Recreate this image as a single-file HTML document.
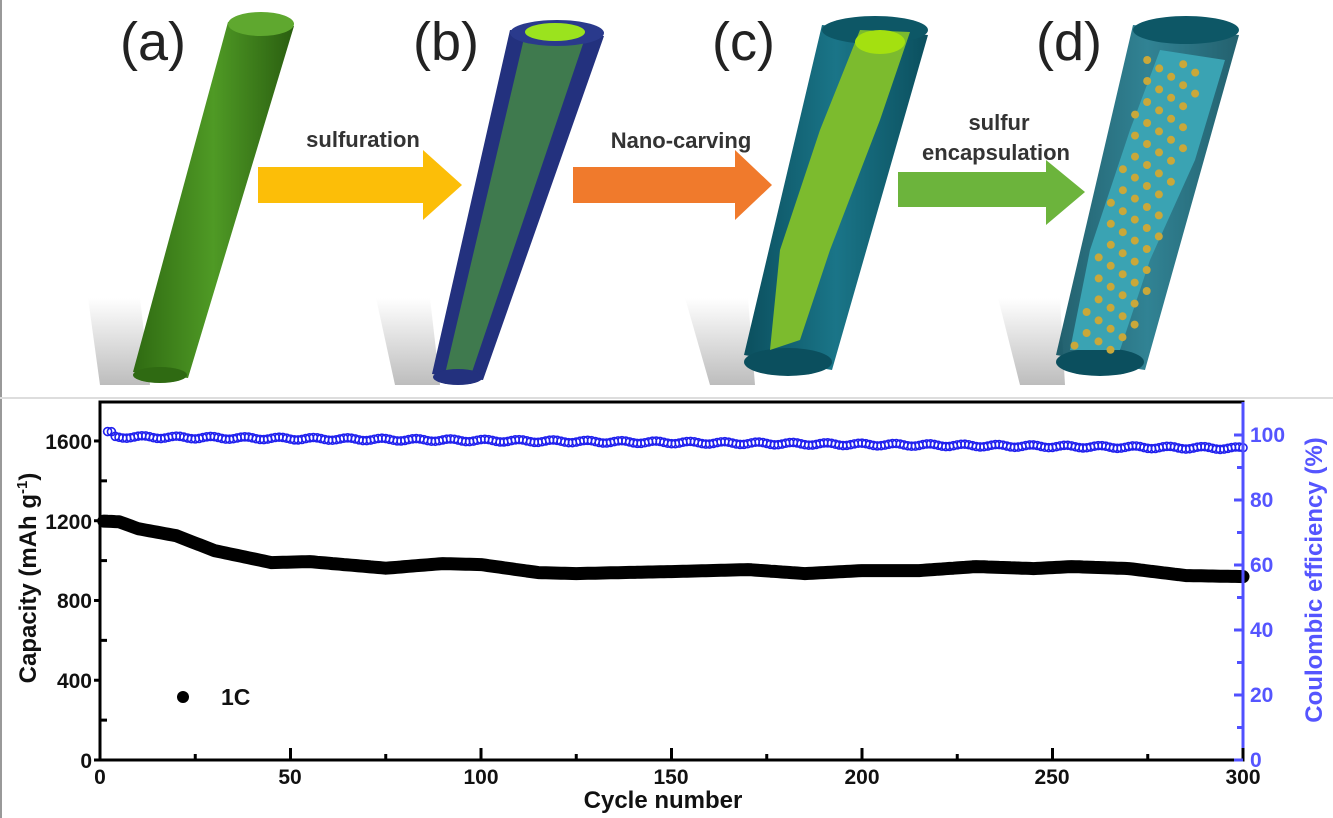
<!DOCTYPE html>
<html><head><meta charset="utf-8"><style>
html,body{margin:0;padding:0;background:#fff;width:1333px;height:818px;overflow:hidden}
svg{display:block;font-family:"Liberation Sans",sans-serif}
</style></head><body>
<svg id="s" width="1333" height="818" viewBox="0 0 1333 818" xmlns="http://www.w3.org/2000/svg">
<defs>
<linearGradient id="sh" x1="0" y1="0" x2="0" y2="1"><stop offset="0" stop-color="#fff"/><stop offset="1" stop-color="#bdbdbd"/></linearGradient>
<linearGradient id="ga" x1="0" y1="0" x2="1" y2="0"><stop offset="0" stop-color="#2f6a12"/><stop offset="0.5" stop-color="#4f9a25"/><stop offset="1" stop-color="#2a5e10"/></linearGradient>
<linearGradient id="gt" x1="0" y1="0" x2="1" y2="0"><stop offset="0" stop-color="#0b4f5e"/><stop offset="0.5" stop-color="#1a7588"/><stop offset="1" stop-color="#0b4f5e"/></linearGradient>
</defs>
<rect width="1333" height="818" fill="#fff"/>
<line x1="1" y1="0" x2="1" y2="818" stroke="#999" stroke-width="2"/>
<line x1="0" y1="398" x2="1333" y2="398" stroke="#ddd" stroke-width="2"/>
<!-- shadows -->
<polygon points="88,298 140,298 150,385 100,385" fill="url(#sh)"/>
<polygon points="376,298 430,298 440,385 395,385" fill="url(#sh)"/>
<polygon points="685,298 748,298 755,385 710,385" fill="url(#sh)"/>
<polygon points="998,298 1060,298 1065,385 1020,385" fill="url(#sh)"/>
<!-- a -->
<polygon points="228,22 294,26 188,378 133,372" fill="url(#ga)"/>
<ellipse cx="261" cy="24" rx="33" ry="12" fill="#5fa82f"/>
<ellipse cx="160" cy="375" rx="27" ry="8" fill="#2f6a12"/>
<!-- b -->
<polygon points="510,30 604,36 483,380 432,374" fill="#23317e"/>
<polygon points="525,34 585,38 470,378 445,374" fill="#3f7a4e"/>
<ellipse cx="557" cy="33" rx="47" ry="13" fill="#2a3a8c"/>
<ellipse cx="555" cy="32" rx="30" ry="9" fill="#9be31e"/>
<ellipse cx="458" cy="377" rx="25" ry="8" fill="#23317e"/>
<!-- c -->
<polygon points="822,25 928,35 832,370 744,355" fill="url(#gt)"/>
<ellipse cx="875" cy="30" rx="53" ry="14" fill="#0d5766"/>
<ellipse cx="788" cy="362" rx="44" ry="14" fill="#0b4f5e"/>
<polygon points="860,30 910,32 880,120 830,250 800,340 770,350 780,250 820,130" fill="#7cbb2e"/>
<ellipse cx="880" cy="42" rx="25" ry="12" fill="#a4e010"/>
<!-- d -->
<polygon points="1133,25 1239,35 1145,370 1056,355" fill="url(#gt)" opacity="0.9"/>
<ellipse cx="1186" cy="30" rx="53" ry="14" fill="#0d5766"/>
<ellipse cx="1100" cy="362" rx="44" ry="14" fill="#0b4f5e"/>
<polygon points="1160,50 1225,60 1195,160 1150,260 1120,350 1070,350 1090,250 1130,130" fill="#3aa3b3"/>
<g id="dots" fill="#c9a83a"></g>
<!-- arrows -->
<polygon points="258,167 423,167 423,150 462,185 423,220 423,203 258,203" fill="#fcbe08"/>
<polygon points="573,167 735,167 735,150 772,185 735,220 735,203 573,203" fill="#f07a2c"/>
<polygon points="898,172 1046,172 1046,160 1085,192 1046,225 1046,207 898,207" fill="#6cb43c"/>
<g font-weight="bold" font-size="22" fill="#333" text-anchor="middle">
<text x="363" y="147">sulfuration</text>
<text x="681" y="148">Nano-carving</text>
<text x="999" y="130">sulfur</text>
<text x="996" y="160">encapsulation</text>
</g>
<g font-size="54" fill="#222" font-family="'Liberation Sans',sans-serif">
<text x="120" y="60">(a)</text>
<text x="413" y="60">(b)</text>
<text x="712" y="60">(c)</text>
<text x="1036" y="60">(d)</text>
</g>
<!-- chart -->
<g id="ce" fill="none" stroke="#2020ee" stroke-width="1.6"></g>
<path id="cap" fill="none" stroke="#000" stroke-width="13" stroke-linejoin="round" stroke-linecap="round"/>
<rect x="100" y="402" width="1143" height="358" fill="none" stroke="#000" stroke-width="3"/>
<line x1="1243" y1="402" x2="1243" y2="760" stroke="#5050ff" stroke-width="3"/>
<g id="ticks"></g>
<g font-weight="bold" font-size="21" fill="#111" text-anchor="end">
<text x="92" y="768">0</text><text x="92" y="688">400</text><text x="92" y="608">800</text><text x="92" y="529">1200</text><text x="92" y="449">1600</text>
</g>
<g font-weight="bold" font-size="21" fill="#111" text-anchor="middle">
<text x="100" y="784">0</text><text x="290" y="784">50</text><text x="481" y="784">100</text><text x="671" y="784">150</text><text x="862" y="784">200</text><text x="1052" y="784">250</text><text x="1243" y="784">300</text>
</g>
<g font-weight="bold" font-size="21" fill="#5555ff" text-anchor="start">
<text x="1250" y="767">0</text><text x="1250" y="702">20</text><text x="1250" y="637">40</text><text x="1250" y="572">60</text><text x="1250" y="507">80</text><text x="1250" y="442">100</text>
</g>
<text x="663" y="808" font-weight="bold" font-size="24" text-anchor="middle" fill="#111">Cycle number</text>
<text transform="translate(36,578) rotate(-90)" font-weight="bold" font-size="24" text-anchor="middle" fill="#111">Capacity (mAh g<tspan dy="-9" font-size="15">-1</tspan><tspan dy="9">)</tspan></text>
<text transform="translate(1322,580) rotate(-90)" font-weight="bold" font-size="24" text-anchor="middle" fill="#5555ff">Coulombic efficiency (%)</text>
<circle cx="183" cy="697" r="6" fill="#000"/>
<text x="221" y="705" font-weight="bold" font-size="23" fill="#111">1C</text>
</svg>
<script>
var NS="http://www.w3.org/2000/svg";
function X(c){return 100+c*3.81}
function Yc(v){return 760-v*0.1994}
function Yp(p){return 760-p*3.25}
var k=[[1,1198],[5,1195],[10,1160],[20,1125],[30,1050],[45,990],[55,995],[75,962],[90,985],[100,980],[115,940],[125,935],[150,945],[170,955],[185,935],[200,950],[215,950],[230,970],[245,960],[255,970],[270,960],[285,925],[300,920]];
function interp(c){for(var i=0;i<k.length-1;i++){if(c<=k[i+1][0]){var t=(c-k[i][0])/(k[i+1][0]-k[i][0]);return k[i][1]+t*(k[i+1][1]-k[i][1]);}}return k[k.length-1][1];}
var d="";for(var c=1;c<=300;c++){d+=(c==1?"M":"L")+X(c).toFixed(1)+","+Yc(interp(c)).toFixed(1);}
document.getElementById("cap").setAttribute("d",d);
var g=document.getElementById("ce");
for(var c=2;c<=300;c++){var p=99.5-c*0.012+Math.sin(c*0.7)*0.4+(c<4?1.2:0);var e=document.createElementNS(NS,"circle");e.setAttribute("cx",X(c));e.setAttribute("cy",Yp(p));e.setAttribute("r",4);g.appendChild(e);}
var t=document.getElementById("ticks"),h="";
for(var v=0;v<=1600;v+=200){var y=Yc(v);h+='<line x1="'+(v%400?100:94)+'" y1="'+y+'" x2="'+(v%400?107:100)+'" y2="'+y+'" stroke="#000" stroke-width="3"/>';}
for(var c=0;c<=300;c+=25){var x=X(c);h+='<line x1="'+x+'" y1="760" x2="'+x+'" y2="'+(c%50?754:748)+'" stroke="#000" stroke-width="3"/>';}
for(var p=0;p<=100;p+=10){var y=Yp(p);h+='<line x1="'+(p%20?1237:1234)+'" y1="'+y+'" x2="1243" y2="'+y+'" stroke="#5050ff" stroke-width="3"/>';}
t.innerHTML=h;
var dg=document.getElementById("dots"),s="";
for(var i=0;i<70;i++){var f=(i*0.6180339)%1,yy=60+i*4.2;var cx=1185-(yy-30)*0.26+(f-0.5)*60;s+='<circle cx="'+cx.toFixed(1)+'" cy="'+yy.toFixed(1)+'" r="4"/>';}
dg.innerHTML=s;
</script>
</body></html>
